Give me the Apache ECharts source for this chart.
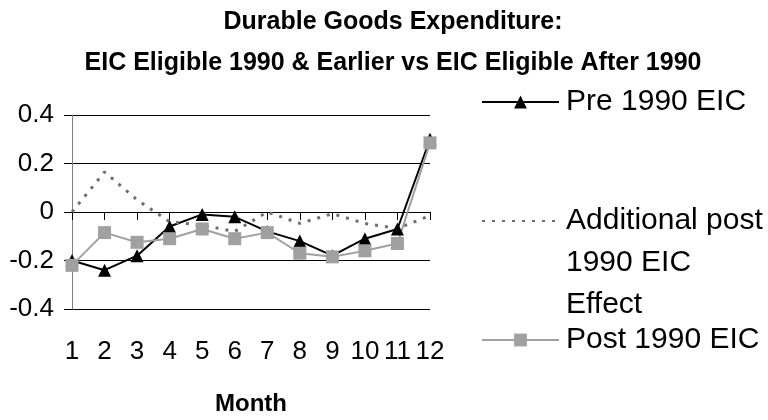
<!DOCTYPE html>
<html>
<head>
<meta charset="utf-8">
<title>Durable Goods Expenditure</title>
<script src="https://cdn.jsdelivr.net/npm/echarts@6/dist/echarts.min.js"></script>
<style>
  html, body { margin: 0; padding: 0; background: #fff; }
  #chart { width: 768px; height: 420px; }
</style>
</head>
<body>
<div id="chart"></div>
<script>
var months = ['1', '2', '3', '4', '5', '6', '7', '8', '9', '10', '11', '12'];
var yTicks = [-0.4, -0.2, 0, 0.2, 0.4];
var pre1990 = [-0.2, -0.24, -0.18, -0.06, -0.01, -0.02, -0.08, -0.12, -0.18, -0.11, -0.07, 0.3];
var additionalPost1990 = [0, 0.165, 0.05, -0.04, -0.055, -0.08, 0, -0.047, -0.007, -0.047, -0.068, -0.015];
var post1990 = [-0.22, -0.085, -0.125, -0.11, -0.07, -0.11, -0.085, -0.17, -0.185, -0.16, -0.13, 0.285];

var FONT = '"Liberation Sans", Arial, sans-serif';

var myChart = echarts.init(document.getElementById('chart'));
var option = {
    animation: false,
    title: {
        text: 'Durable Goods Expenditure:\nEIC Eligible 1990 & Earlier vs EIC Eligible After 1990',
        left: 393,
        textAlign: 'center',
        top: 2,
        padding: 0,
        textStyle: {
            fontFamily: FONT,
            fontWeight: 'bold',
            fontSize: 25,
            lineHeight: 41,
            color: '#000'
        }
    },
    legend: [
        {
            data: ['Pre 1990 EIC'],
            left: 481, top: 87, padding: 0,
            itemWidth: 77, itemHeight: 16,
            selectedMode: false,
            textStyle: { fontFamily: FONT, fontSize: 30, color: '#000', padding: [0, 0, 0, 2] }
        },
        {
            data: ['Additional post'],
            left: 481, top: 206, padding: 0,
            itemWidth: 77, itemHeight: 16,
            selectedMode: false,
            itemStyle: { opacity: 0 },
            textStyle: { fontFamily: FONT, fontSize: 30, color: '#000', padding: [0, 0, 0, 2] }
        },
        {
            data: ['Post 1990 EIC'],
            left: 481, top: 325, padding: 0,
            itemWidth: 77, itemHeight: 16,
            selectedMode: false,
            textStyle: { fontFamily: FONT, fontSize: 30, color: '#000', padding: [0, 0, 0, 2] }
        }
    ],
    graphic: [
        {
            type: 'text',
            x: 566, y: 242,
            style: {
                text: '1990 EIC\nEffect',
                font: '30px ' + FONT,
                lineHeight: 42,
                fill: '#000',
                verticalAlign: 'top'
            }
        }
    ],
    grid: {
        left: 72, right: 338, top: 115, bottom: 111,
        containLabel: false,
        outerBoundsMode: 'none'
    },
    xAxis: {
        type: 'category',
        data: months,
        boundaryGap: false,
        name: 'Month',
        nameLocation: 'middle',
        nameGap: 83,
        nameTextStyle: { fontFamily: FONT, fontWeight: 'bold', fontSize: 24, color: '#000' },
        axisLine: { lineStyle: { color: '#000', width: 1 } },
        axisTick: { show: true, length: 8, alignWithLabel: true, lineStyle: { color: '#000' } },
        axisLabel: { fontFamily: FONT, fontSize: 26, color: '#000', margin: 30, interval: 0 },
        splitLine: { show: false }
    },
    yAxis: {
        type: 'value',
        min: yTicks[0],
        max: yTicks[yTicks.length - 1],
        interval: 0.2,
        axisLine: { show: true, lineStyle: { color: '#808080', width: 1 } },
        axisTick: { show: true, length: 8, lineStyle: { color: '#000' } },
        axisLabel: {
            fontFamily: FONT, fontSize: 26, color: '#000', margin: 18,
            formatter: function (v) { return String(Math.round(v * 10) / 10); }
        },
        splitLine: { show: true, lineStyle: { color: '#000', width: 1 } }
    },
    series: [
        {
            name: 'Pre 1990 EIC',
            type: 'line',
            data: pre1990,
            symbol: 'triangle',
            symbolSize: 13,
            itemStyle: { color: '#000' },
            lineStyle: { color: '#000', width: 2 }
        },
        {
            name: 'Additional post',
            type: 'line',
            data: additionalPost1990,
            symbol: 'none',
            itemStyle: { color: '#6e6e6e' },
            lineStyle: { color: '#6e6e6e', width: 3, type: [3, 7] }
        },
        {
            name: 'Post 1990 EIC',
            type: 'line',
            data: post1990,
            symbol: 'rect',
            symbolSize: 13,
            itemStyle: { color: '#a0a0a0' },
            lineStyle: { color: '#a0a0a0', width: 2 }
        }
    ]
};
myChart.setOption(option);
</script>
</body>
</html>
